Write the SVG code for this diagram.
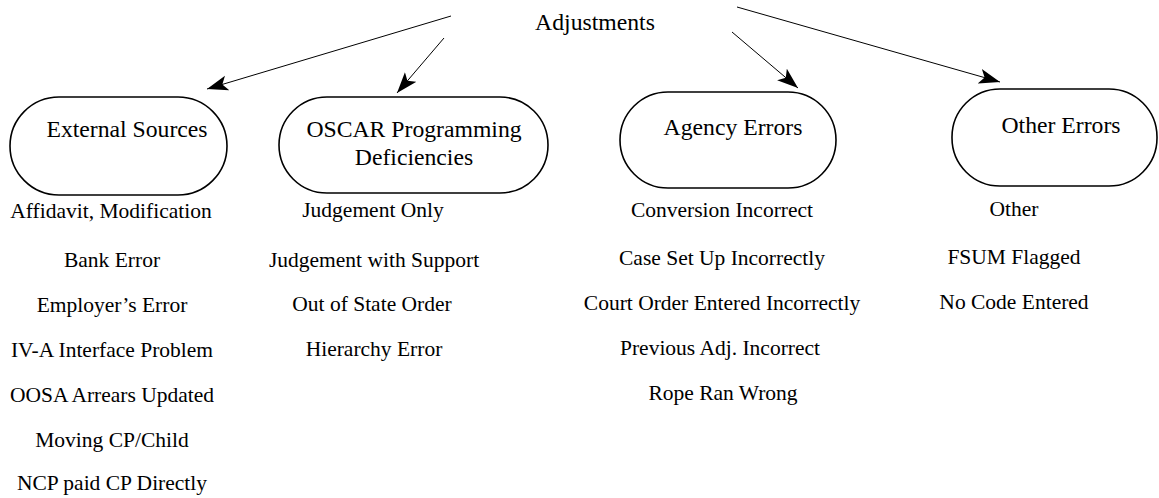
<svg xmlns="http://www.w3.org/2000/svg" width="1159" height="498" viewBox="0 0 1159 498">
<style>
text{font-family:"Liberation Serif","Times New Roman",serif;font-size:21.5px;fill:#000;text-anchor:middle}
.big{font-size:23.7px}
.node{fill:#fff;stroke:#000;stroke-width:1.6}
.conn{stroke:#000;stroke-width:1;fill:none;marker-end:url(#ah)}
</style>
<defs>
<marker id="ah" markerUnits="userSpaceOnUse" markerWidth="24" markerHeight="16" refX="21" refY="8" orient="auto">
<path d="M21,8 L0,0.5 L5,8 L0,15.5 Z" fill="#000"/>
</marker>
</defs>
<rect width="1159" height="498" fill="#fff"/>
<g id="connectors">
<line class="conn" x1="451" y1="16" x2="207" y2="89"/>
<line class="conn" x1="444" y1="38" x2="397" y2="93"/>
<line class="conn" x1="732" y1="32" x2="798" y2="88"/>
<line class="conn" x1="737" y1="7" x2="1000" y2="82"/>
</g>
<g id="root"><text class="big" x="595" y="30">Adjustments</text></g>
<g id="external">
<rect class="node" x="10" y="97" width="217" height="98" rx="49" ry="49"/>
<text class="big" x="127" y="137">External Sources</text>
</g>
<g id="oscar">
<rect class="node" x="279" y="97" width="269" height="96" rx="48" ry="48"/>
<text class="big" x="414" y="137">OSCAR Programming</text>
<text class="big" x="414" y="165">Deficiencies</text>
</g>
<g id="agency">
<rect class="node" x="620" y="92" width="216" height="96" rx="48" ry="48"/>
<text class="big" x="733" y="135">Agency Errors</text>
</g>
<g id="other">
<rect class="node" x="952" y="89" width="205" height="97" rx="48" ry="48"/>
<text class="big" x="1061" y="133">Other Errors</text>
</g>
<g id="external-items">
<text x="111" y="218">Affidavit, Modification</text>
<text x="112" y="267">Bank Error</text>
<text x="112" y="312">Employer’s Error</text>
<text x="112" y="357">IV-A Interface Problem</text>
<text x="112" y="402">OOSA Arrears Updated</text>
<text x="112" y="447">Moving CP/Child</text>
<text x="112" y="490">NCP paid CP Directly</text>
</g>
<g id="oscar-items">
<text x="373" y="217">Judgement Only</text>
<text x="374" y="267">Judgement with Support</text>
<text x="372" y="311">Out of State Order</text>
<text x="374" y="356">Hierarchy Error</text>
</g>
<g id="agency-items">
<text x="722" y="217">Conversion Incorrect</text>
<text x="722" y="265">Case Set Up Incorrectly</text>
<text x="722" y="310">Court Order Entered Incorrectly</text>
<text x="720" y="355">Previous Adj. Incorrect</text>
<text x="723" y="400">Rope Ran Wrong</text>
</g>
<g id="other-items">
<text x="1014" y="216">Other</text>
<text x="1014" y="264">FSUM Flagged</text>
<text x="1014" y="309">No Code Entered</text>
</g>
</svg>
